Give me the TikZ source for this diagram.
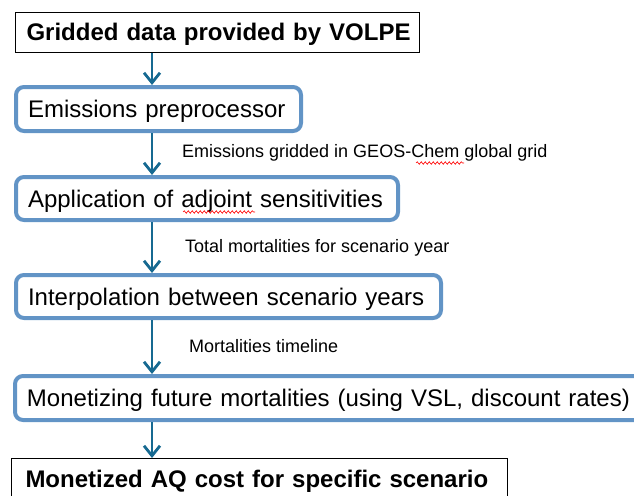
\documentclass[tikz,border=0pt]{standalone}
\usepackage{fontspec}
\setmainfont{Liberation Sans}
\usetikzlibrary{arrows.meta,decorations.pathmorphing}
\definecolor{boxblue}{RGB}{98,148,198}
\definecolor{flowblue}{RGB}{22,105,145}

\begin{document}
\begin{tikzpicture}[x=1pt, y=-1pt,
    bluebox/.style = {draw=boxblue, line width=4pt, rounded corners=8pt, fill=white, anchor=north west,
        inner xsep=12pt, inner ysep=0pt, text height=17pt, text depth=0pt, align=left, font=\fontsize{24}{28}\selectfont},
    blackbox/.style = {draw=black, line width=1pt, fill=white, anchor=north west,
        inner xsep=11pt, inner ysep=0pt, text height=17pt, text depth=0pt, align=left, font=\fontsize{24}{28}\selectfont\bfseries},
    flow/.style = {line width=2.8pt, flowblue, -{Straight Barb[length=10pt,width=16pt]}},
    note/.style = {anchor=base west, inner sep=0pt, font=\fontsize{18}{20}\selectfont},
    squiggle/.style = {red, line width=0.6pt, decorate, decoration={snake, amplitude=1.3pt, segment length=4pt}}]
        \useasboundingbox (0,0) rectangle (634,495);
        \clip (0,0) rectangle (634,495);
        
        % boxes
        \node[blackbox, text width=382pt, minimum height=40pt] (volpe) at (15,12) {\mbox{Gridded data provided by VOLPE}};
        \node[bluebox, text width=261pt, minimum height=44pt] (prep) at (14,85) {\mbox{Emissions preprocessor}};
        \node[bluebox, text width=358pt, minimum height=43pt] (adj) at (14,175) {\mbox{Application of adjoint sensitivities}};
        \node[bluebox, text width=401pt, minimum height=43pt] (interp) at (14,273) {\mbox{Interpolation between scenario years}};
        \node[bluebox, text width=621pt, minimum height=44pt] (money) at (13,374) {\mbox{Monetizing future mortalities (using VSL, discount rates)}};
        \node[blackbox, inner xsep=14pt, text width=468pt, minimum height=40pt] (cost) at (11,458) {\mbox{Monetized AQ cost for specific scenario}};
        
        % arrows
        \coordinate (ax) at (152,0);
        \draw[flow] (ax |- volpe.south) -- (ax |- prep.north);
        \draw[flow] (ax |- prep.south) -- (ax |- adj.north);
        \draw[flow] (ax |- adj.south) -- (ax |- interp.north);
        \draw[flow] (ax |- interp.south) -- (ax |- money.north);
        \draw[flow] (ax |- money.south) -- (ax |- cost.north);
        
        % labels
        \node[note] (grid) at (182,157) {Emissions gridded in GEOS-Chem global grid};
        \node[note] (total) at (185,252) {Total mortalities for scenario year};
        \node[note] (timeline) at (189,352) {Mortalities timeline};
        
        \draw[squiggle] (416,163) -- (464,163);
        \draw[squiggle] (183,212) -- (255,212);
\end{tikzpicture}
\end{document}
